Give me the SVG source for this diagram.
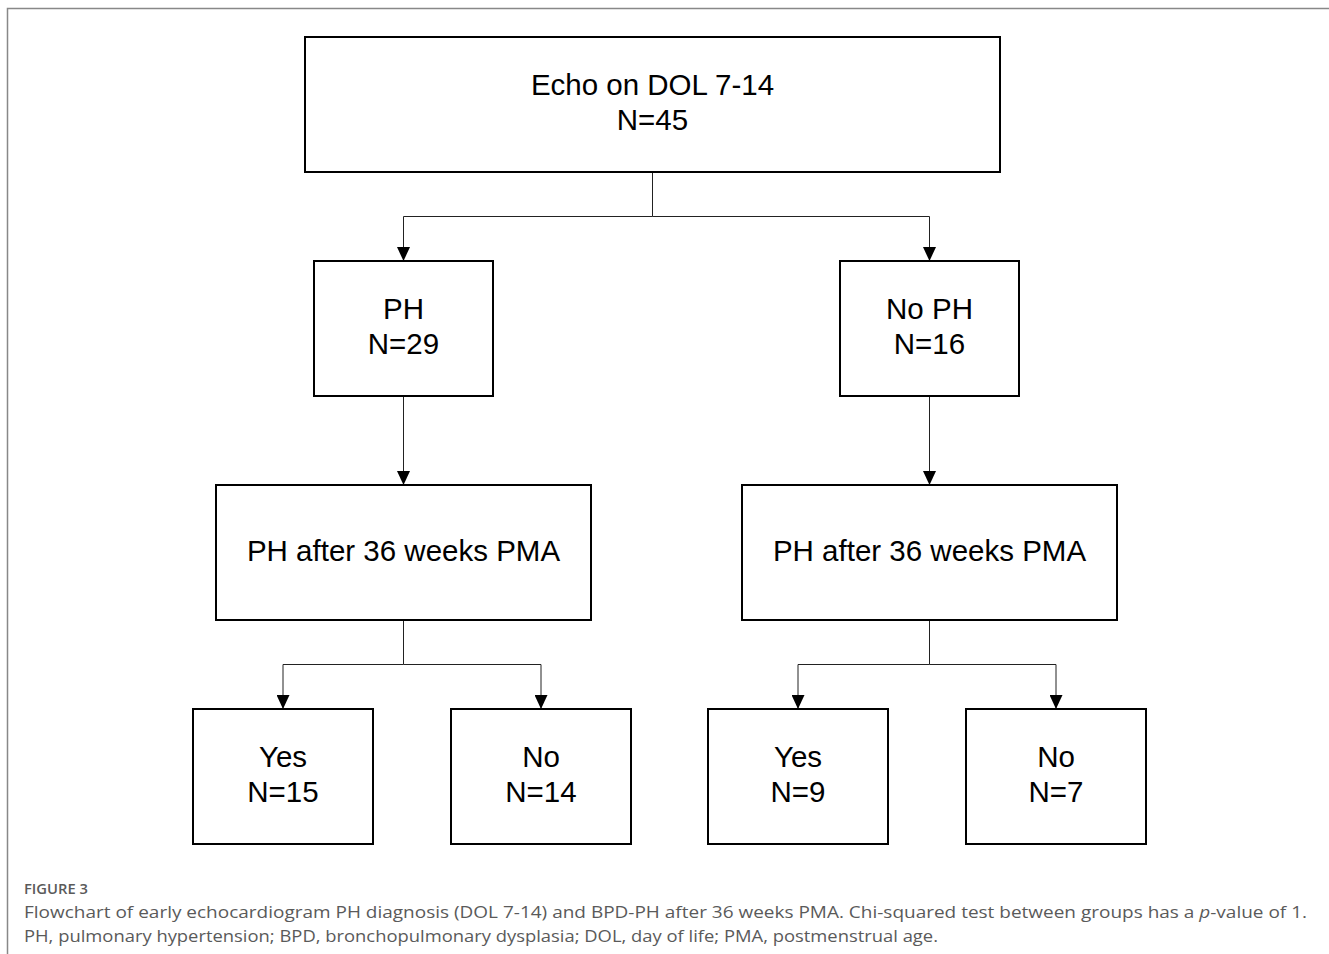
<svg xmlns="http://www.w3.org/2000/svg" width="1329" height="954" viewBox="0 0 1329 954">
<defs>
<style>
.box{fill:#fff;stroke:#000;stroke-width:2}
.t{font-family:"Liberation Sans",Arial,sans-serif;font-size:29.5px;fill:#000;text-anchor:middle}
.c{stroke:#222;stroke-width:1;fill:none}
.cap{font-family:"Open Sans","Noto Sans",sans-serif;fill:#5a5a5a}
</style>
<marker id="ah" viewBox="0 0 14 13" refX="14" refY="6.5" markerWidth="14" markerHeight="13" markerUnits="userSpaceOnUse" orient="auto">
<path d="M0,0 L14,6.5 L0,13 Z" fill="#000"/>
</marker>
</defs>
<rect width="1329" height="954" fill="#fff"/>
<path d="M7.5,954 V8.5 H1329" fill="none" stroke="#888" stroke-width="1.5"/>

<g id="connectors">
<path class="c" d="M652.5,172 V216.5 H403.5 V261" marker-end="url(#ah)"/>
<path class="c" d="M652.5,216.5 H929.5 V261" marker-end="url(#ah)"/>
<path class="c" d="M403.5,396 V485" marker-end="url(#ah)"/>
<path class="c" d="M929.5,396 V485" marker-end="url(#ah)"/>
<path class="c" d="M403.5,620 V664.5 H283 V709" marker-end="url(#ah)"/>
<path class="c" d="M403.5,664.5 H541 V709" marker-end="url(#ah)"/>
<path class="c" d="M929.5,620 V664.5 H798 V709" marker-end="url(#ah)"/>
<path class="c" d="M929.5,664.5 H1056 V709" marker-end="url(#ah)"/>
</g>

<g id="n-echo">
<rect class="box" x="305" y="37" width="695" height="135"/>
<text class="t" x="652.5" y="95">Echo on DOL 7-14</text>
<text class="t" x="652.5" y="130">N=45</text>
</g>
<g id="n-ph">
<rect class="box" x="314" y="261" width="179" height="135"/>
<text class="t" x="403.5" y="319">PH</text>
<text class="t" x="403.5" y="354">N=29</text>
</g>
<g id="n-noph">
<rect class="box" x="840" y="261" width="179" height="135"/>
<text class="t" x="929.5" y="319">No PH</text>
<text class="t" x="929.5" y="354">N=16</text>
</g>
<g id="n-ph36-left">
<rect class="box" x="216" y="485" width="375" height="135"/>
<text class="t" x="403.5" y="561">PH after 36 weeks PMA</text>
</g>
<g id="n-ph36-right">
<rect class="box" x="742" y="485" width="375" height="135"/>
<text class="t" x="929.5" y="561">PH after 36 weeks PMA</text>
</g>
<g id="n-yes-left">
<rect class="box" x="193" y="709" width="180" height="135"/>
<text class="t" x="283" y="767">Yes</text>
<text class="t" x="283" y="802">N=15</text>
</g>
<g id="n-no-left">
<rect class="box" x="451" y="709" width="180" height="135"/>
<text class="t" x="541" y="767">No</text>
<text class="t" x="541" y="802">N=14</text>
</g>
<g id="n-yes-right">
<rect class="box" x="708" y="709" width="180" height="135"/>
<text class="t" x="798" y="767">Yes</text>
<text class="t" x="798" y="802">N=9</text>
</g>
<g id="n-no-right">
<rect class="box" x="966" y="709" width="180" height="135"/>
<text class="t" x="1056" y="767">No</text>
<text class="t" x="1056" y="802">N=7</text>
</g>

<g id="caption">
<text class="cap" x="24" y="894" font-size="13.5" font-weight="600" fill="#6a6a6a" textLength="64" lengthAdjust="spacingAndGlyphs">FIGURE 3</text>
<text class="cap" x="24" y="918" font-size="17" textLength="1283" lengthAdjust="spacingAndGlyphs">Flowchart of early echocardiogram PH diagnosis (DOL 7-14) and BPD-PH after 36 weeks PMA. Chi-squared test between groups has a <tspan font-style="italic">p</tspan>-value of 1.</text>
<text class="cap" x="24" y="942" font-size="17" textLength="914" lengthAdjust="spacingAndGlyphs">PH, pulmonary hypertension; BPD, bronchopulmonary dysplasia; DOL, day of life; PMA, postmenstrual age.</text>
</g>
</svg>
